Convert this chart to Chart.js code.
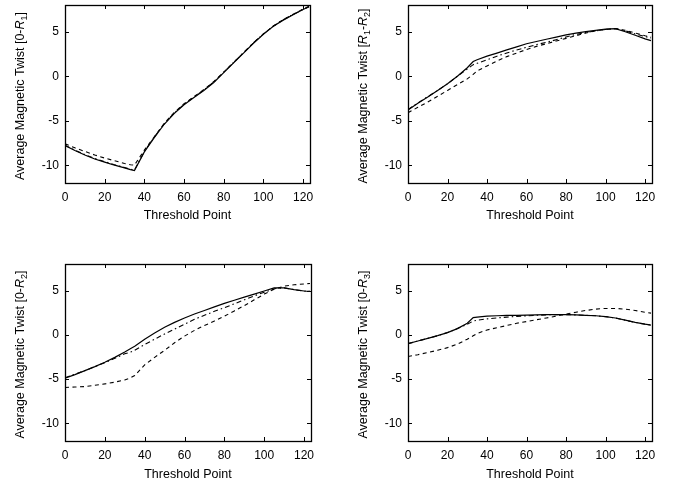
<!DOCTYPE html>
<html><head><meta charset="utf-8">
<script src="https://cdn.jsdelivr.net/npm/chart.js@4.4.1/dist/chart.umd.min.js"></script>
<style>
html,body{margin:0;padding:0;background:#fff;}
#wrap{position:relative;width:686px;height:488px;background:#fff;}
.cell{position:absolute;width:343px;height:244px;}
canvas{display:block;}
</style></head><body>
<div id="wrap">
<div class="cell" style="left:0;top:0"><canvas id="c0" width="343" height="244"></canvas></div>
<div class="cell" style="left:343px;top:0"><canvas id="c1" width="343" height="244"></canvas></div>
<div class="cell" style="left:0;top:244px"><canvas id="c2" width="343" height="244"></canvas></div>
<div class="cell" style="left:343px;top:244px"><canvas id="c3" width="343" height="244"></canvas></div>
</div>
<script>
// ---- data ----
const thresholdPoints = [0,5,10,15,20,25,30,33,35,40,45,50,55,60,65,70,75,80,85,90,95,100,105,110,115,120,123];
const xTicks = [0,20,40,60,80,100,120];
const yTicks = [-10,-5,0,5];
const xTitle = 'Threshold Point';

// panel 1: [0-R1]
const twistR1_solid  = [-7.8,-8.35,-8.85,-9.3,-9.65,-10.0,-10.3,-10.5,-10.6,-8.5,-6.9,-5.4,-4.2,-3.2,-2.4,-1.6,-0.7,0.4,1.5,2.6,3.7,4.7,5.6,6.3,6.9,7.5,7.8];
const twistR1_dashdot= [-7.75,-8.3,-8.8,-9.25,-9.6,-9.95,-10.25,-10.45,-10.55,-8.45,-6.85,-5.35,-4.15,-3.15,-2.35,-1.55,-0.65,0.45,1.55,2.65,3.75,4.75,5.6,6.35,6.95,7.5,7.8];
const twistR1_dashed = [-7.6,-8.05,-8.45,-8.85,-9.2,-9.5,-9.8,-9.95,-10.0,-8.3,-6.8,-5.3,-4.1,-3.1,-2.3,-1.5,-0.6,0.45,1.55,2.65,3.75,4.75,5.65,6.35,6.95,7.55,7.85];
// panel 2: [R1-R2]
const twistR12_solid  = [-3.8,-3.05,-2.35,-1.6,-0.85,0.0,0.95,1.65,1.85,2.25,2.6,2.95,3.3,3.65,3.9,4.15,4.4,4.65,4.85,5.0,5.15,5.3,5.35,5.0,4.6,4.2,4.0];
const twistR12_dashdot= [-3.75,-3.0,-2.3,-1.6,-0.85,0.0,0.8,1.3,1.45,1.85,2.25,2.6,2.95,3.25,3.55,3.8,4.1,4.4,4.7,4.9,5.1,5.25,5.35,5.1,4.75,4.45,4.3];
const twistR12_dashed = [-4.1,-3.5,-2.9,-2.25,-1.6,-0.95,-0.3,0.2,0.6,1.15,1.7,2.2,2.6,3.0,3.35,3.65,3.95,4.25,4.55,4.85,5.1,5.25,5.35,5.15,4.85,4.55,4.4];
// panel 3: [0-R2]
const twistR2_solid  = [-4.9,-4.5,-4.05,-3.6,-3.1,-2.55,-1.95,-1.55,-1.3,-0.5,0.2,0.85,1.4,1.9,2.35,2.75,3.15,3.55,3.9,4.25,4.6,4.95,5.3,5.3,5.1,4.95,4.9];
const twistR2_dashdot= [-4.85,-4.45,-4.05,-3.6,-3.15,-2.65,-2.15,-1.95,-1.75,-1.1,-0.5,0.1,0.65,1.2,1.75,2.2,2.65,3.05,3.5,3.95,4.4,4.8,5.2,5.3,5.1,4.95,4.9];
const twistR2_dashed = [-5.95,-5.9,-5.85,-5.7,-5.55,-5.35,-5.1,-4.85,-4.6,-3.4,-2.55,-1.75,-0.9,-0.15,0.5,1.05,1.55,2.1,2.7,3.3,3.95,4.6,5.15,5.5,5.65,5.75,5.8];
// panel 4: [0-R3]
const twistR3_solid  = [-1.0,-0.7,-0.4,-0.1,0.25,0.7,1.3,1.95,2.0,2.1,2.15,2.2,2.2,2.22,2.25,2.27,2.28,2.28,2.25,2.2,2.15,2.05,1.9,1.65,1.4,1.2,1.1];
const twistR3_dashdot= [-1.0,-0.7,-0.4,-0.1,0.25,0.7,1.2,1.55,1.65,1.8,1.9,2.0,2.08,2.15,2.2,2.25,2.28,2.28,2.25,2.2,2.15,2.05,1.9,1.65,1.4,1.2,1.1];
const twistR3_dashed = [-2.45,-2.25,-2.0,-1.75,-1.45,-1.05,-0.5,-0.1,0.15,0.55,0.8,1.05,1.3,1.5,1.7,1.9,2.1,2.35,2.55,2.75,2.9,2.98,2.98,2.9,2.75,2.55,2.45];

// y-axis titles: [text, style] pieces (n = normal, i = italic, s = subscript)
const yTitle1 = [['Average Magnetic Twist [0-','n'],['R','i'],['1','s'],[']','n']];
const yTitle2 = [['Average Magnetic Twist [','n'],['R','i'],['1','s'],['-','n'],['R','i'],['2','s'],[']','n']];
const yTitle3 = [['Average Magnetic Twist [0-','n'],['R','i'],['2','s'],[']','n']];
const yTitle4 = [['Average Magnetic Twist [0-','n'],['R','i'],['3','s'],[']','n']];

const FONT = '"Liberation Sans", Arial, Helvetica, sans-serif';

const framePlugin = {
  id: 'frame',
  afterDatasetsDraw(chart) {
    const {ctx, chartArea: a, scales} = chart;
    ctx.save();
    ctx.strokeStyle = '#000';
    ctx.lineWidth = 1;
    const L = 4;
    ctx.beginPath();
    xTicks.forEach(v => {
      const p = Math.round(scales.x.getPixelForValue(v)) + 0.5;
      ctx.moveTo(p, a.bottom); ctx.lineTo(p, a.bottom - L);
      ctx.moveTo(p, a.top); ctx.lineTo(p, a.top + L);
    });
    yTicks.forEach(v => {
      const p = Math.round(scales.y.getPixelForValue(v)) + 0.5;
      ctx.moveTo(a.left, p); ctx.lineTo(a.left + L, p);
      ctx.moveTo(a.right, p); ctx.lineTo(a.right - L, p);
    });
    ctx.stroke();
    ctx.lineWidth = 1.3;
    ctx.strokeRect(Math.round(a.left)+0.5, Math.round(a.top)+0.5, Math.round(a.right-a.left), Math.round(a.bottom-a.top));
    ctx.restore();
  },
  afterDraw(chart) {
    const parts = chart.options.plugins.frame.parts;
    const {ctx, chartArea: a} = chart;
    const size = 12.5, sub = 9;
    const fontOf = s => s === 'i' ? `italic ${size}px ${FONT}` : s === 's' ? `${sub}px ${FONT}` : `${size}px ${FONT}`;
    ctx.save();
    let total = 0;
    parts.forEach(([t, s]) => { ctx.font = fontOf(s); total += ctx.measureText(t).width; });
    const cy = (a.top + a.bottom) / 2 + 2;
    ctx.translate(23.5, cy);
    ctx.rotate(-Math.PI / 2);
    ctx.fillStyle = '#000';
    ctx.textBaseline = 'alphabetic';
    let x = -total / 2;
    parts.forEach(([t, s]) => {
      ctx.font = fontOf(s);
      ctx.fillText(t, x, s === 's' ? 3 : 0);
      x += ctx.measureText(t).width;
    });
    ctx.restore();
  }
};

function makePanel(id, series, parts, pad) {
  const styles = [
    {dash: [4, 3.5], w: 1.1},
    {dash: [5, 3, 1.5, 3], w: 1.1},
    {dash: [], w: 1.2}
  ];
  const order = [series[2], series[1], series[0]];
  new Chart(document.getElementById(id), {
    type: 'line',
    data: {
      datasets: order.map((vals, k) => ({
        data: thresholdPoints.map((x, i) => ({x, y: vals[i]})),
        borderColor: '#000',
        borderWidth: styles[k].w,
        borderDash: styles[k].dash,
        pointRadius: 0,
        tension: 0,
        fill: false
      }))
    },
    options: {
      responsive: false,
      animation: false,
      devicePixelRatio: 1,
      layout: {padding: {left: 0, right: pad.right, top: pad.top, bottom: pad.bottom}},
      plugins: {legend: {display: false}, tooltip: {enabled: false}, frame: {parts}},
      scales: {
        x: {
          type: 'linear', min: 0, max: 123.5,
          afterBuildTicks: s => { s.ticks = xTicks.map(v => ({value: v})); },
          afterFit: s => { s.height = pad.xh; s.paddingLeft = 0; s.paddingRight = 0; },
          grid: {display: false, drawTicks: false},
          border: {display: false},
          ticks: {autoSkip: false, maxRotation: 0, padding: 7, color: '#000', font: {family: FONT, size: 12}},
          title: {display: true, text: xTitle, color: '#000', font: {family: FONT, size: 12.5}, padding: 0}
        },
        y: {
          type: 'linear', min: -12, max: 8,
          afterBuildTicks: s => { s.ticks = yTicks.map(v => ({value: v})); },
          afterFit: s => { s.width = 65; s.paddingTop = 0; s.paddingBottom = 0; },
          grid: {display: false, drawTicks: false},
          border: {display: false},
          ticks: {padding: 6, color: '#000', font: {family: FONT, size: 12}},
          title: {display: false}
        }
      }
    },
    plugins: [framePlugin]
  });
}

makePanel('c0', [twistR1_solid, twistR1_dashdot, twistR1_dashed], yTitle1, {top: 5, right: 33, bottom: 21, xh: 40});
makePanel('c1', [twistR12_solid, twistR12_dashdot, twistR12_dashed], yTitle2, {top: 5, right: 34, bottom: 21, xh: 40});
makePanel('c2', [twistR2_solid, twistR2_dashdot, twistR2_dashed], yTitle3, {top: 20, right: 32, bottom: 6, xh: 41});
makePanel('c3', [twistR3_solid, twistR3_dashdot, twistR3_dashed], yTitle4, {top: 20, right: 34, bottom: 6, xh: 41});
</script>
</body></html>
